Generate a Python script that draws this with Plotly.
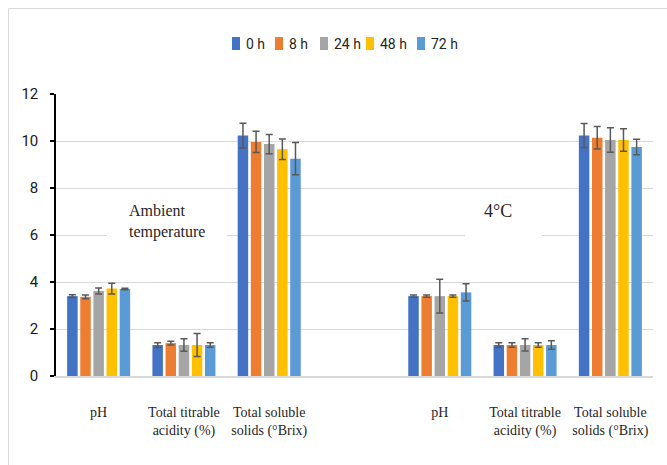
import plotly.graph_objects as go

series_names = ["0 h", "8 h", "24 h", "48 h", "72 h"]
series_colors = ["#4472C4", "#ED7D31", "#A5A5A5", "#FFC000", "#5B9BD5"]

param_labels = ["pH", "Total titrable<br>acidity (%)", "Total soluble<br>solids (°Brix)"]
condition_labels = ["Ambient<br>temperature", "4°C"]

# values per time point: [pH, TTA, TSS]
ambient_0h = [3.40, 1.32, 10.23]
ambient_8h = [3.37, 1.40, 9.96]
ambient_24h = [3.62, 1.32, 9.87]
ambient_48h = [3.72, 1.32, 9.65]
ambient_72h = [3.70, 1.32, 9.25]

ambient_err_0h = [0.06, 0.10, 0.53]
ambient_err_8h = [0.08, 0.08, 0.45]
ambient_err_24h = [0.13, 0.27, 0.41]
ambient_err_48h = [0.23, 0.49, 0.44]
ambient_err_72h = [0.03, 0.10, 0.69]

cold_0h = [3.40, 1.32, 10.23]
cold_8h = [3.40, 1.32, 10.14]
cold_24h = [3.40, 1.32, 10.04]
cold_48h = [3.40, 1.32, 10.04]
cold_72h = [3.56, 1.32, 9.74]

cold_err_0h = [0.05, 0.10, 0.52]
cold_err_8h = [0.05, 0.10, 0.48]
cold_err_24h = [0.72, 0.26, 0.52]
cold_err_48h = [0.05, 0.10, 0.48]
cold_err_72h = [0.37, 0.18, 0.33]

ambient = [ambient_0h, ambient_8h, ambient_24h, ambient_48h, ambient_72h]
ambient_err = [ambient_err_0h, ambient_err_8h, ambient_err_24h, ambient_err_48h, ambient_err_72h]
cold = [cold_0h, cold_8h, cold_24h, cold_48h, cold_72h]
cold_err = [cold_err_0h, cold_err_8h, cold_err_24h, cold_err_48h, cold_err_72h]

y_ticks = [0, 2, 4, 6, 8, 10, 12]

# category slots: 0,1,2 ambient; 3 empty; 4,5,6 cold
x_pos = [0, 1, 2, 4, 5, 6]

fig = go.Figure()
for i, name in enumerate(series_names):
    fig.add_trace(go.Bar(
        name=name,
        x=x_pos,
        y=ambient[i] + cold[i],
        marker=dict(color=series_colors[i], line=dict(width=0)),
        error_y=dict(type="data", array=ambient_err[i] + cold_err[i],
                     color="#595959", thickness=1.5, width=3.5),
        showlegend=False,
    ))

W, H = 667, 465
L, R, T, B = 56, 653, 94, 376
pw, ph = R - L, B - T

def px_x(p):
    return (p - L) / pw

def px_y(p):
    return (B - p) / ph

sans = "Roboto, Liberation Sans, sans-serif"
serif = "Liberation Serif, Times New Roman, serif"

annotations = [
    dict(text=condition_labels[0], x=px_x(127), xref="paper", y=px_y(221), yref="paper",
         xanchor="left", yanchor="middle", showarrow=False, align="left",
         font=dict(family=serif, size=16, color="#262626")),
    dict(text=condition_labels[1], x=px_x(498), xref="paper", y=px_y(211), yref="paper",
         xanchor="center", yanchor="middle", showarrow=False,
         font=dict(family=serif, size=18, color="#262626")),
]
shapes = [
    dict(type="rect", xref="paper", yref="paper",
         x0=px_x(8.5), x1=px_x(700), y0=px_y(700), y1=px_y(8.5),
         line=dict(color="#D9D9D9", width=1), fillcolor="rgba(0,0,0,0)", layer="below"),
    dict(type="rect", xref="paper", yref="paper",
         x0=px_x(107), x1=px_x(227), y0=px_y(242), y1=px_y(195),
         line=dict(width=0), fillcolor="white", layer="above"),
    dict(type="rect", xref="paper", yref="paper",
         x0=px_x(465), x1=px_x(542), y0=px_y(242), y1=px_y(195),
         line=dict(width=0), fillcolor="white", layer="above"),
]

# legend (drawn as swatches + text, laid out like the original)
legend_left = [232, 275, 320, 366, 417]
for i, name in enumerate(series_names):
    x0 = legend_left[i]
    shapes.append(dict(type="rect", xref="paper", yref="paper",
                       x0=px_x(x0), x1=px_x(x0 + 8), y0=px_y(50), y1=px_y(37),
                       line=dict(width=0), fillcolor=series_colors[i]))
    annotations.append(dict(text=name, x=px_x(x0 + 12), xref="paper", y=px_y(43.5), yref="paper",
                            xanchor="left", yanchor="middle", showarrow=False,
                            font=dict(family=sans, size=14, color="#262626")))

fig.update_layout(
    width=W, height=H,
    margin=dict(l=L, r=W - R, t=T, b=H - B),
    paper_bgcolor="white", plot_bgcolor="white",
    barmode="group", bargap=0.23, bargroupgap=0.2,
    showlegend=False,
    xaxis=dict(range=[-0.5, 6.5], tickmode="array", tickvals=x_pos,
               ticktext=param_labels + param_labels,
               tickfont=dict(family=serif, size=14, color="#262626"),
               showgrid=False, zeroline=False,
               showline=True, linecolor="#D9D9D9", linewidth=2, ticks="",
               ticklabelstandoff=22, fixedrange=True),
    yaxis=dict(range=[0, 12], tickmode="array", tickvals=y_ticks,
               tickfont=dict(family=sans, size=15, color="#1a1a1a"),
               showgrid=True, gridcolor="#D9D9D9", gridwidth=1, zeroline=False,
               showline=True, linecolor="black", linewidth=1.5,
               ticks="outside", ticklen=4, tickcolor="black", tickwidth=1.5,
               ticklabelstandoff=9),
    annotations=annotations,
    shapes=shapes,
)

fig.write_html("out.html", config={"displayModeBar": False},
               post_script="document.body.style.margin='0';")
